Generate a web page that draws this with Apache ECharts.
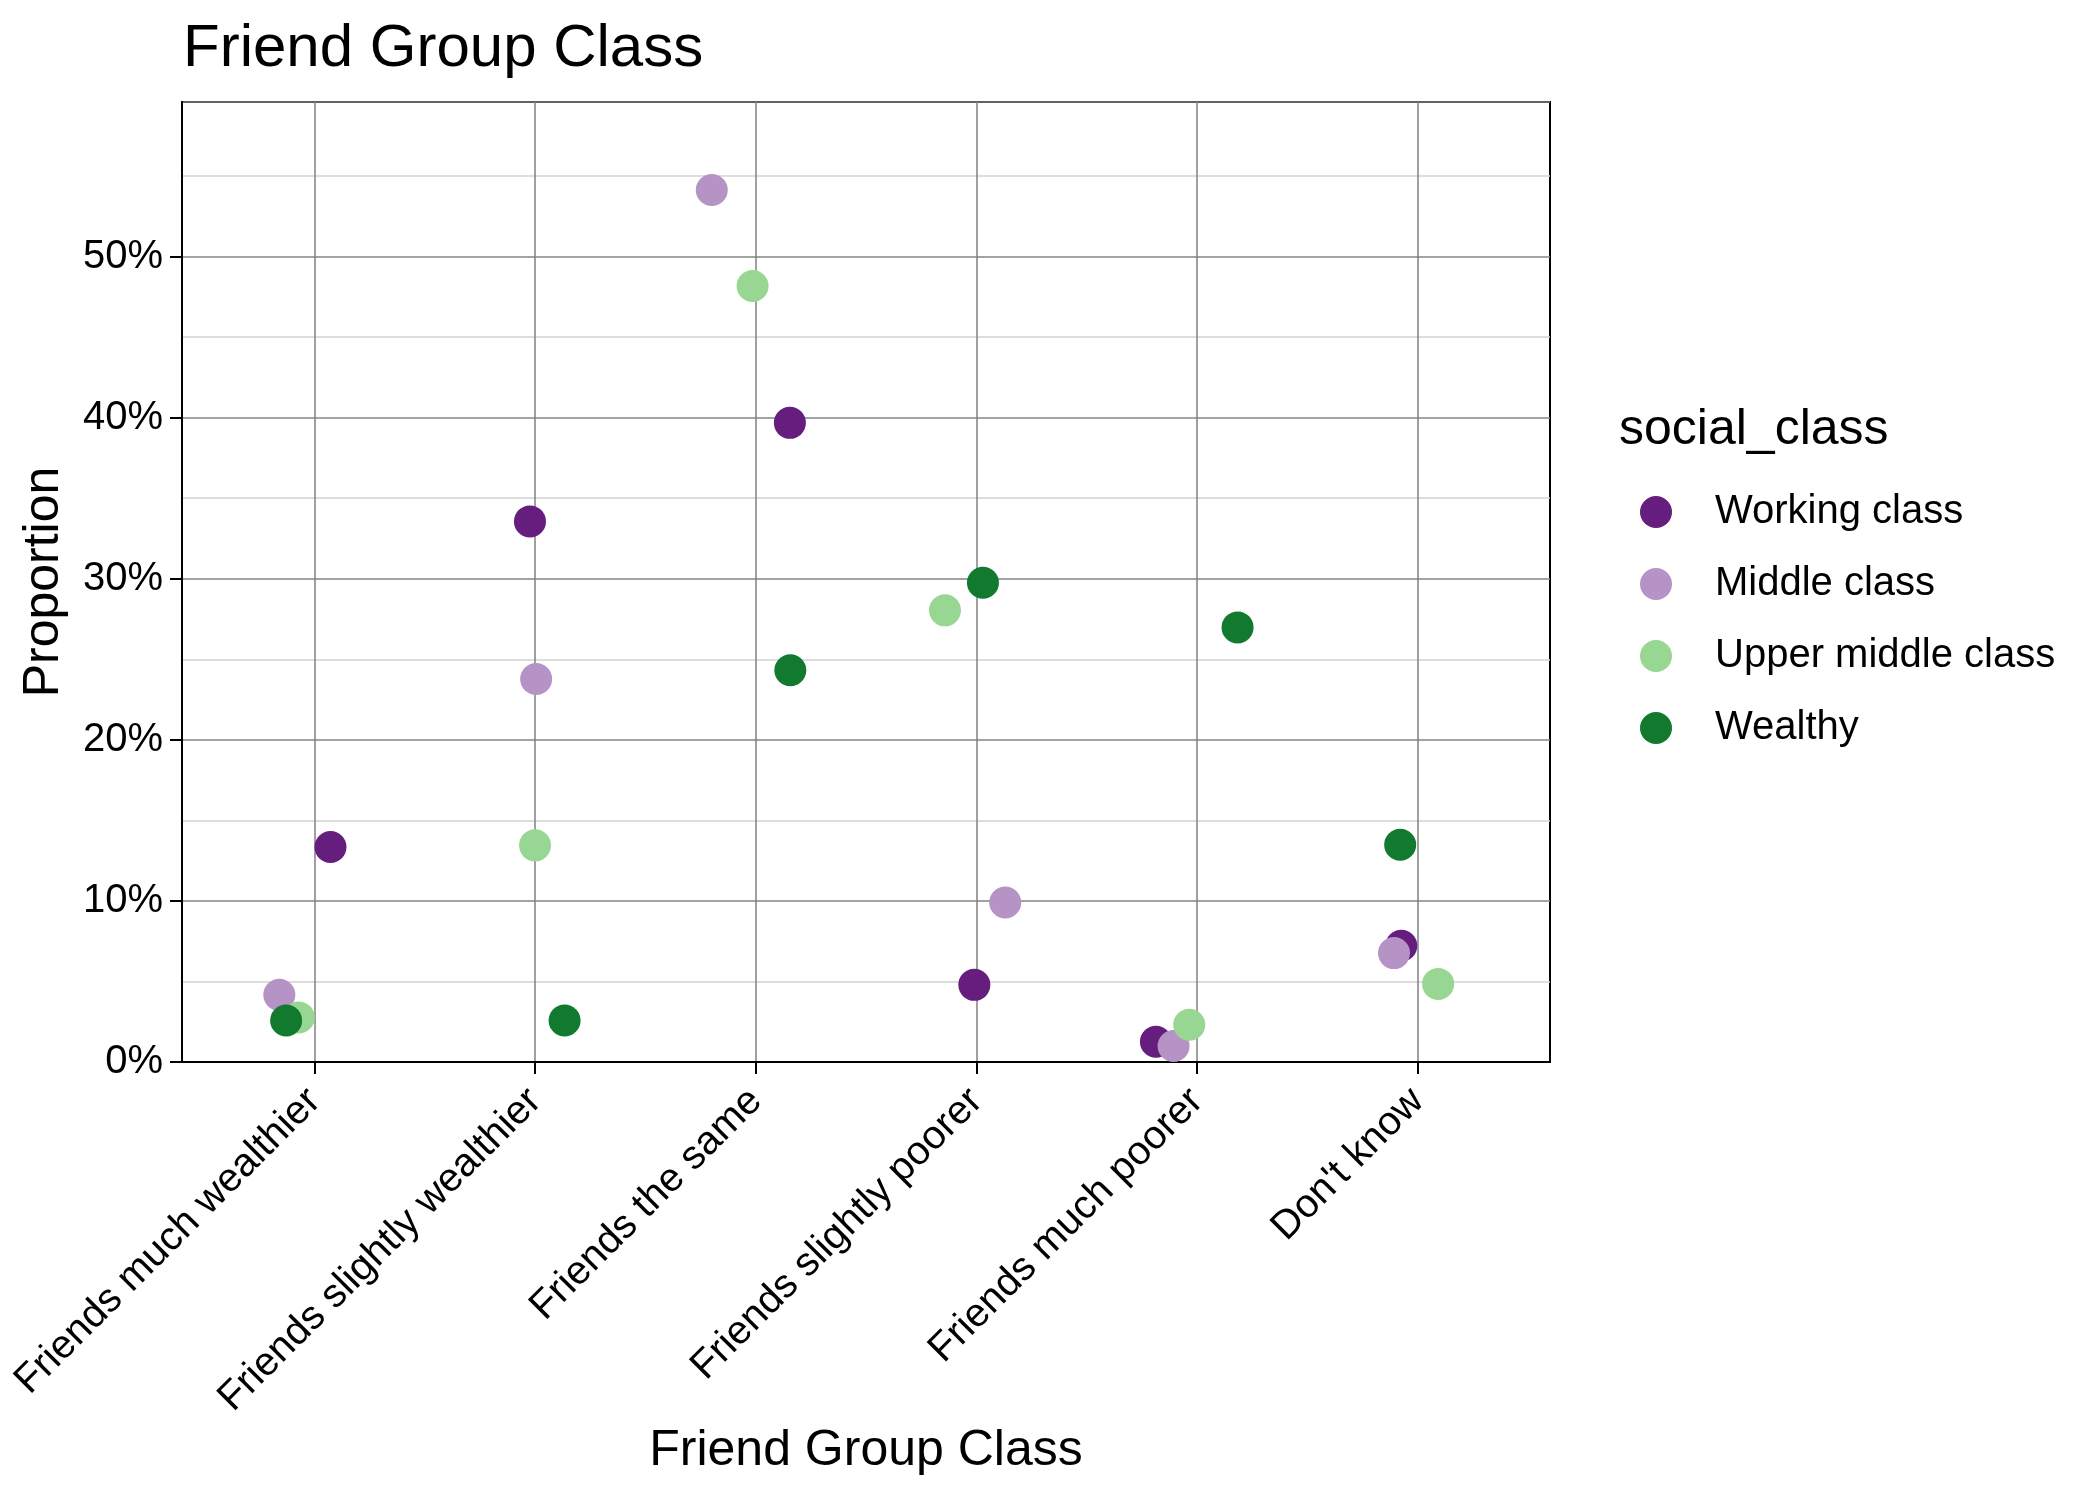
<!DOCTYPE html>
<html>
<head>
<meta charset="utf-8">
<title>Friend Group Class</title>
<script src="https://cdn.jsdelivr.net/npm/echarts@6/dist/echarts.min.js"></script>
<style>
  html, body { margin: 0; padding: 0; background: #fff; }
  #chart { width: 2100px; height: 1500px; }
</style>
</head>
<body>
<div id="chart"></div>
<script>
// Categories on the x axis
const categories = [
    'Friends much wealthier',
    'Friends slightly wealthier',
    'Friends the same',
    'Friends slightly poorer',
    'Friends much poorer',
    "Don't know"
];

const classNames = ['Working class', 'Middle class', 'Upper middle class', 'Wealthy'];
const classColors = ['#651d7e', '#b593c4', '#98d793', '#127a2e'];

// Proportions per category
const workingValues = [0.1335, 0.3356, 0.3968, 0.0479, 0.0126, 0.0722];
const middleValues  = [0.0417, 0.2378, 0.5414, 0.0990, 0.0099, 0.0676];
const upperValues   = [0.0277, 0.1345, 0.4818, 0.2804, 0.0231, 0.0485];
const wealthyValues = [0.0258, 0.0258, 0.2432, 0.2975, 0.2698, 0.1349];

// Horizontal jitter of each point, in category units
const workingJitter = [0.073, -0.023, 0.155, -0.009, -0.186, -0.074];
const middleJitter  = [-0.159, 0.005, -0.199, 0.131, -0.106, -0.107];
const upperJitter   = [-0.071, 0.000, -0.014, -0.142, -0.035, 0.093];
const wealthyJitter = [-0.128, 0.134, 0.157, 0.030, 0.184, -0.079];

// Axis ticks
const xTicks = [1, 2, 3, 4, 5, 6];
const yTicks = [0, 0.1, 0.2, 0.3, 0.4, 0.5];
const yMax = 0.596;

const FONT = 'Liberation Sans, Arial, sans-serif';

function makePoints(values, jitter) {
    return values.map((v, i) => [i + 1 + jitter[i], v]);
}

const seriesData = [
    makePoints(workingValues, workingJitter),
    makePoints(middleValues, middleJitter),
    makePoints(upperValues, upperJitter),
    makePoints(wealthyValues, wealthyJitter)
];

const chart = echarts.init(document.getElementById('chart'), null, { renderer: 'canvas' });

chart.setOption({
    animation: false,
    backgroundColor: '#ffffff',
    textStyle: { fontFamily: FONT },
    title: [
        {
            text: 'Friend Group Class',
            left: 178,
            top: 14,
            textStyle: { fontFamily: FONT, fontSize: 60, fontWeight: 'normal', color: '#000' }
        },
        {
            text: 'social_class',
            left: 1614,
            top: 400,
            textStyle: { fontFamily: FONT, fontSize: 50, fontWeight: 'normal', color: '#000' }
        }
    ],
    legend: {
        data: classNames,
        orient: 'vertical',
        left: 1635,
        top: 487,
        icon: 'circle',
        itemWidth: 108,
        itemHeight: 32,
        itemGap: 32,
        textStyle: { fontFamily: FONT, fontSize: 40, color: '#000', lineHeight: 40 }
    },
    grid: {
        left: 182,
        right: 550,
        top: 102,
        bottom: 438,
        show: true,
        borderColor: '#000',
        borderWidth: 2,
        containLabel: false
    },
    xAxis: {
        type: 'value',
        min: 0.4,
        max: 6.6,
        name: 'Friend Group Class',
        nameLocation: 'middle',
        nameGap: 362,
        nameTextStyle: { fontFamily: FONT, fontSize: 50, color: '#000' },
        axisLine: { show: true, lineStyle: { color: '#000', width: 2 } },
        axisTick: {
            show: true,
            length: 12,
            customValues: xTicks,
            lineStyle: { color: '#000', width: 2 }
        },
        axisLabel: {
            customValues: xTicks,
            rotate: 45,
            margin: 33,
            fontFamily: FONT,
            fontSize: 40,
            color: '#000',
            formatter: v => categories[Math.round(v) - 1] || ''
        },
        splitLine: { show: true, lineStyle: { color: '#808080', width: 1.5 } }
    },
    yAxis: [
        {
            // grid lines every 5%, darker at the 10% marks
            type: 'value',
            min: 0,
            max: yMax,
            interval: 0.05,
            axisLine: { show: false },
            axisTick: { show: false },
            axisLabel: { show: false },
            splitLine: { show: true, lineStyle: { color: ['#858585', '#d2d2d2'], width: 1.5 } }
        },
        {
            type: 'value',
            min: 0,
            max: yMax,
            position: 'left',
            name: 'Proportion',
            nameLocation: 'middle',
            nameRotate: 90,
            nameGap: 113,
            nameTextStyle: { fontFamily: FONT, fontSize: 50, color: '#000' },
            axisLine: { show: true, lineStyle: { color: '#000', width: 2 } },
            axisTick: {
                show: true,
                length: 12,
                customValues: yTicks,
                lineStyle: { color: '#000', width: 2 }
            },
            axisLabel: {
                customValues: yTicks,
                margin: 19,
                fontFamily: FONT,
                fontSize: 40,
                color: '#000',
                formatter: v => Math.round(v * 100) + '%'
            },
            splitLine: { show: false }
        }
    ],
    series: classNames.map((name, i) => ({
        name: name,
        type: 'scatter',
        yAxisIndex: 0,
        symbol: 'circle',
        symbolSize: 32,
        itemStyle: { color: classColors[i], opacity: 1 },
        data: seriesData[i]
    }))
});
</script>
</body>
</html>
